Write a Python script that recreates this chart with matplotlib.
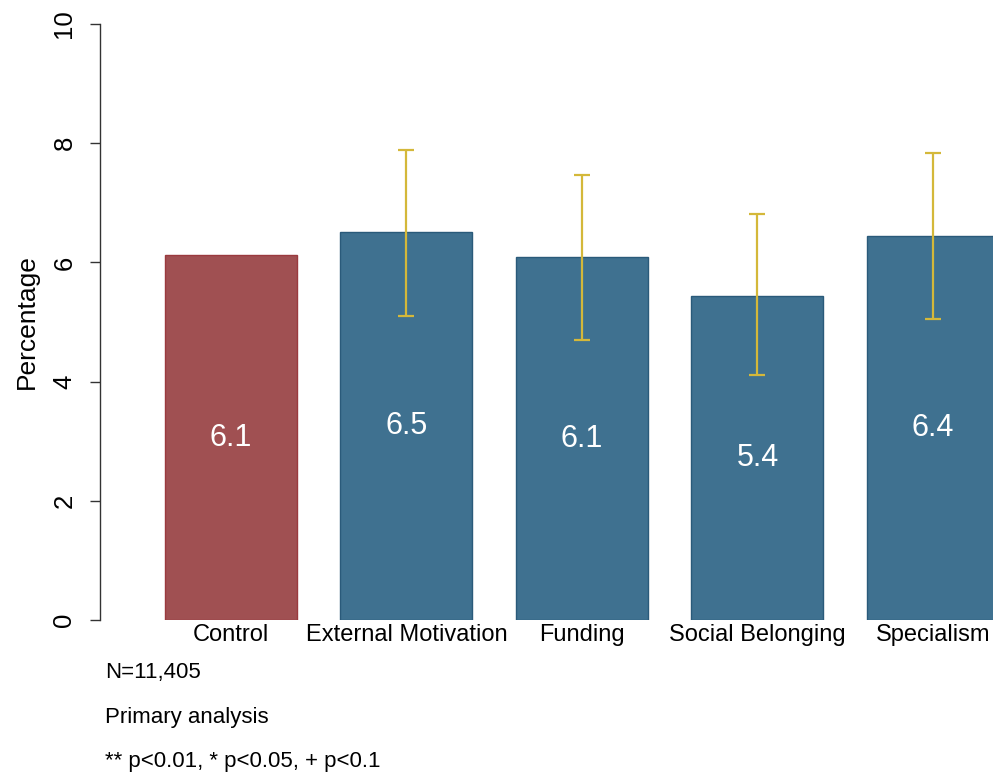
import matplotlib.pyplot as plt
import numpy as np

plt.rcParams['font.family'] = ['Liberation Sans', 'DejaVu Sans']

groups = ["Control", "External Motivation", "Funding", "Social Belonging", "Specialism"]
pct = [6.12, 6.51, 6.09, 5.44, 6.44]
ci_low = [np.nan, 5.10, 4.70, 4.11, 5.05]
ci_high = [np.nan, 7.89, 7.47, 6.81, 7.84]
notes = ["N=11,405", "Primary analysis", "** p<0.01, * p<0.05, + p<0.1"]

fill = ["#a05052"] + ["#3f7190"] * 4
edge = ["#9a3a3e"] + ["#2a5a7a"] * 4

fig = plt.figure(figsize=(9.93, 7.73), dpi=100)
ax = fig.add_axes([100 / 993, 153 / 773, 893 / 993, 596 / 773])

x = np.arange(len(groups))
ax.bar(x, pct, width=0.752, color=fill, edgecolor=edge, linewidth=1.0, zorder=2)

# confidence intervals for the treatment arms
lo = np.array(ci_low)
hi = np.array(ci_high)
mid = (lo + hi) / 2
ax.errorbar(x[1:], mid[1:], yerr=[(mid - lo)[1:], (hi - mid)[1:]], fmt='none',
            ecolor="#d4b83a", elinewidth=1.6, capsize=5.5, capthick=1.6, zorder=3)

for xi, v in zip(x, pct):
    ax.text(xi, v / 2, f"{v:.1f}", ha='center', va='center', color='white', fontsize=22, zorder=4)

ax.set_xlim(-0.746, 4.342)
ax.set_ylim(0, 10)
ax.set_yticks([0, 2, 4, 6, 8, 10])
ax.set_yticklabels(["0", "2", "4", "6", "8", "10"], rotation=90, va='center')
ax.set_xticks(x)
ax.set_xticklabels(groups, fontsize=17)
ax.tick_params(axis='x', length=0, pad=3)
ax.tick_params(axis='y', labelsize=18.5, length=7, width=1.0, pad=10, color='#333333')
ax.set_ylabel("Percentage", fontsize=19, labelpad=10)

for s in ['top', 'right', 'bottom']:
    ax.spines[s].set_visible(False)
ax.spines['left'].set_linewidth(1.0)
ax.spines['left'].set_color('#333333')

for txt, yb in zip(notes, [0.1229, 0.0647, 0.0078]):
    fig.text(0.106, yb, txt, fontsize=16, va='baseline', ha='left')

fig.savefig("out.png", dpi=100)
